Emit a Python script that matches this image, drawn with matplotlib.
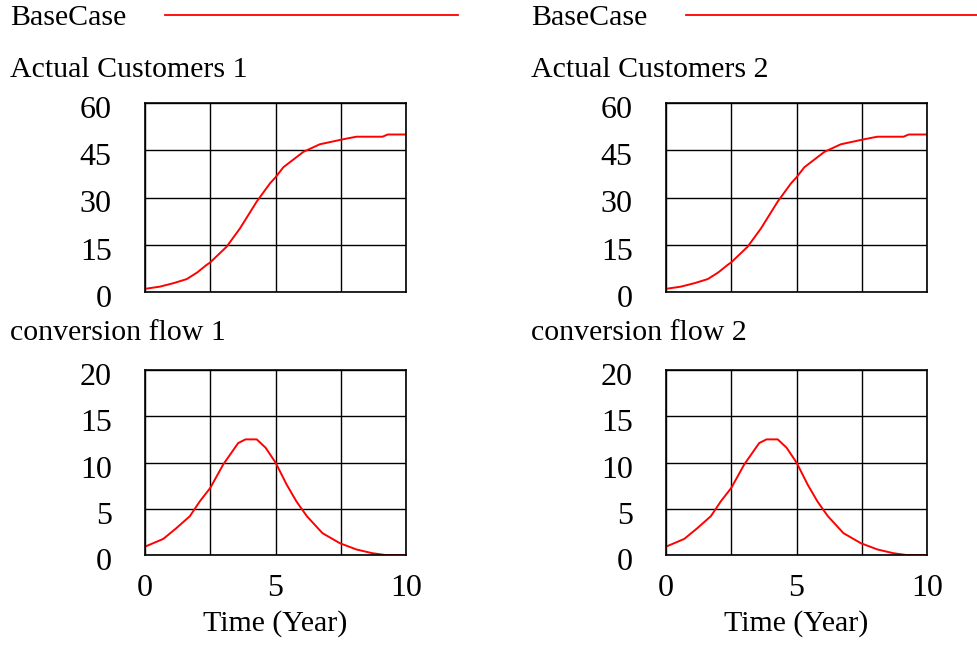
import matplotlib.pyplot as plt
from matplotlib.transforms import ScaledTranslation

plt.rcParams['font.family'] = ['Liberation Serif', 'DejaVu Serif']

# Actual Customers
t_cust = [0, 0.57, 1.09, 1.6, 2.0, 2.36, 2.5, 3.13, 3.64, 4.28, 4.79, 5.0, 5.3,
          6.07, 6.7, 7.6, 8.1, 9.1, 9.3, 10]
customers = [1.0, 1.7, 2.8, 4.1, 6.2, 8.6, 9.4, 14.4, 20.2, 28.7, 34.5, 36.4, 39.6,
             44.5, 46.9, 48.5, 49.3, 49.3, 50.0, 50.0]

# conversion flow
t_flow = [0, 0.25, 0.7, 1.2, 1.72, 2.1, 2.5, 3.0, 3.57, 3.85, 4.28, 4.62, 5.0,
          5.43, 5.8, 6.2, 6.8, 7.47, 8.1, 8.7, 9.2, 10]
flow = [0.9, 1.2, 1.74, 2.9, 4.2, 5.8, 7.25, 9.8, 12.1, 12.5, 12.5, 11.6, 10.0,
        7.6, 5.8, 4.2, 2.36, 1.27, 0.6, 0.2, 0.0, 0.0]

W, H = 977, 645
fig = plt.figure(figsize=(W / 100, H / 100), dpi=100)
fs = 21.5
tfs = 23
red = '#ff0000'


def px_axes(x0, y0, x1, y1):
    return fig.add_axes([x0 / W, 1 - y1 / H, (x1 - x0) / W, (y1 - y0) / H])


def setup(ax, ymax, ystep, xlabels):
    ax.set_xlim(0, 10)
    ax.set_ylim(0, ymax)
    ax.set_xticks([0, 2.5, 5, 7.5, 10])
    ax.set_yticks(range(0, ymax + 1, ystep))
    ax.grid(True, color='black', linewidth=1)
    ax.tick_params(length=0, labelsize=tfs)
    ax.tick_params(axis='y', pad=24)
    ax.set_yticklabels([str(v) for v in range(0, ymax + 1, ystep)])
    shift = ScaledTranslation(0, -4 / 100, fig.dpi_scale_trans)
    for lab in ax.get_yticklabels():
        lab.set_transform(lab.get_transform() + shift)
    if xlabels:
        ax.set_xticklabels(['0', '', '5', '', '10'])
        ax.tick_params(axis='x', pad=14)
        ax.set_xlabel('Time (Year)', fontsize=fs, labelpad=5)
    else:
        ax.set_xticklabels([])
    for s in ax.spines.values():
        s.set_linewidth(1.2)


for col, off in enumerate([0, 521]):
    n = col + 1
    # legend
    fig.text((10 + off) / W, 1 - 18 / H, 'BaseCase', fontsize=fs, va='center')
    fig.add_artist(plt.Line2D([(165 + off) / W, min(458 + off, 977) / W],
                              [1 - 15 / H, 1 - 15 / H], color=red, linewidth=1.3))

    fig.text((10 + off) / W, 1 - 70 / H, 'Actual Customers %d' % n, fontsize=fs, va='center')
    ax1 = px_axes(145 + off, 103, 406 + off, 292)
    ax1.plot(t_cust, customers, color=red, linewidth=1.4)
    setup(ax1, 60, 15, False)

    fig.text((10 + off) / W, 1 - 333 / H, 'conversion flow %d' % n, fontsize=fs, va='center')
    ax2 = px_axes(145 + off, 370, 406 + off, 555)
    ax2.plot(t_flow, flow, color=red, linewidth=1.4)
    setup(ax2, 20, 5, True)

fig.savefig('out.png', dpi=100)
